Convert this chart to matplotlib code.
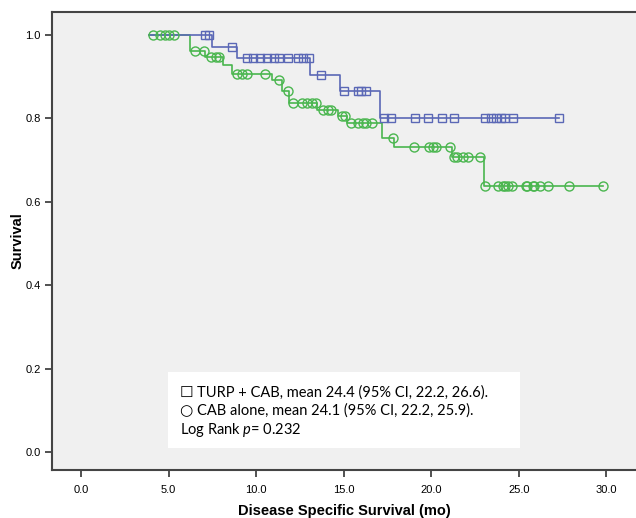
import matplotlib
matplotlib.use("Agg")
import matplotlib.pyplot as plt
import numpy as np
from matplotlib.patches import Rectangle

# Kaplan-Meier curves
turp_start = 3.9
turp_event_t = [7.5, 8.9, 13.1, 14.8, 17.1]
turp_event_s = [0.971, 0.945, 0.905, 0.865, 0.802]
turp_censor = [7.1, 7.3, 8.6, 9.5, 9.8, 10.2, 10.6, 11.0, 11.3, 11.8, 12.4, 12.7,
               13.0, 13.7, 15.0, 15.8, 16.0, 16.3, 17.3, 17.7, 19.1, 19.8, 20.6,
               21.3, 23.1, 23.4, 23.7, 24.0, 24.2, 24.7, 27.3]

cab_start = 3.9
cab_event_t = [6.2, 7.1, 8.1, 8.6, 10.9, 11.5, 11.9, 13.5, 14.7, 15.2, 17.2, 17.9, 21.2, 23.0]
cab_event_s = [0.961, 0.948, 0.928, 0.906, 0.892, 0.866, 0.838, 0.821, 0.806, 0.790,
               0.753, 0.731, 0.708, 0.638]
cab_censor = [4.1, 4.5, 4.8, 5.0, 5.3, 6.5, 7.0, 7.4, 7.7, 7.9, 8.9, 9.2, 9.5, 10.5,
              11.3, 11.8, 12.1, 12.6, 12.9, 13.2, 13.4, 13.8, 14.1, 14.3, 14.9, 15.1,
              15.4, 15.8, 16.1, 16.3, 16.6, 17.8, 19.0, 19.9, 20.1, 20.3, 21.1, 21.3,
              21.5, 21.8, 22.1, 22.8, 23.1, 23.8, 24.1, 24.2, 24.4, 24.6, 25.4, 25.5,
              25.8, 25.9, 26.2, 26.7, 27.9, 29.8]

legend_symbols = ["\u2610", "\u25cb", ""]
legend_lines = ["TURP + CAB, mean 24.4 (95% CI, 22.2, 26.6).",
                "CAB alone, mean 24.1 (95% CI, 22.2, 25.9).",
                "Log Rank $\\mathit{p}$= 0.232"]

x_ticks = [0, 5, 10, 15, 20, 25, 30]
y_ticks = [0.0, 0.2, 0.4, 0.6, 0.8, 1.0]

BLUE = "#5B68B6"
GREEN = "#4AB64F"

plt.rcParams["mathtext.fontset"] = "custom"
plt.rcParams["mathtext.it"] = "Lato:italic"
plt.rcParams["mathtext.rm"] = "Lato"


def km_level(t, ev_t, ev_s):
    idx = np.searchsorted(ev_t, t, side="right")
    return np.where(idx == 0, 1.0, np.asarray([1.0] + list(ev_s))[idx])


def draw_km(ax, start, ev_t, ev_s, censor, color, marker, ms):
    end = max(censor)
    xs = [start] + list(ev_t) + [end]
    ys = [1.0] + list(ev_s) + [ev_s[-1]]
    ax.step(xs, ys, where="post", color=color, lw=1.2, zorder=3)
    c = np.array(censor)
    ax.plot(c, km_level(c, ev_t, ev_s), linestyle="none", marker=marker, ms=ms,
            mfc="none", mec=color, mew=1.0, zorder=4)


fig = plt.figure(figsize=(6.36, 5.18), dpi=100)
ax = fig.add_axes([52 / 636, 1 - 470 / 518, 1 - 52 / 636, 458 / 518])
ax.set_facecolor("#F0F0F0")

draw_km(ax, cab_start, cab_event_t, cab_event_s, cab_censor, GREEN, "o", 6.5)
draw_km(ax, turp_start, turp_event_t, turp_event_s, turp_censor, BLUE, "s", 6)

ax.set_xlim(-1.66, 31.7)
ax.set_ylim(-0.043, 1.055)
ax.set_xticks(x_ticks)
ax.set_xticklabels([f"{v:.1f}" for v in x_ticks], fontsize=8, family="Liberation Sans")
ax.set_yticks(y_ticks)
ax.set_yticklabels([f"{v:.1f}" for v in y_ticks], fontsize=8, family="Liberation Sans")
ax.tick_params(direction="out", length=5, width=1.2, color="#333333", pad=3)
ax.tick_params(axis="x", pad=6)

for side in ["left", "bottom", "top"]:
    ax.spines[side].set_color("#444444")
    ax.spines[side].set_linewidth(1.5)
ax.spines["right"].set_visible(False)

ax.set_xlabel("Disease Specific Survival (mo)", fontsize=10.5, fontweight="bold",
              family="Liberation Sans", labelpad=6)
ax.set_ylabel("Survival", fontsize=10.5, fontweight="bold", family="Liberation Sans",
              labelpad=1)

# legend box
ax.add_patch(Rectangle((0.199, 0.048), 0.602, 0.165, transform=ax.transAxes,
                       facecolor="white", edgecolor="none", zorder=5))
for i, (sym, line) in enumerate(zip(legend_symbols, legend_lines)):
    y = 0.170 - i * 0.041
    if sym:
        ax.text(0.218, y, sym, transform=ax.transAxes, fontsize=11,
                family="DejaVu Sans", va="center", ha="left", zorder=6)
        ax.text(0.249, y, line, transform=ax.transAxes, fontsize=10.5,
                family="Lato", va="center", ha="left", zorder=6)
    else:
        ax.text(0.219, y, line, transform=ax.transAxes, fontsize=10.5,
                family="Lato", va="center", ha="left", zorder=6)

plt.savefig("out.png", dpi=100)
plt.close()
